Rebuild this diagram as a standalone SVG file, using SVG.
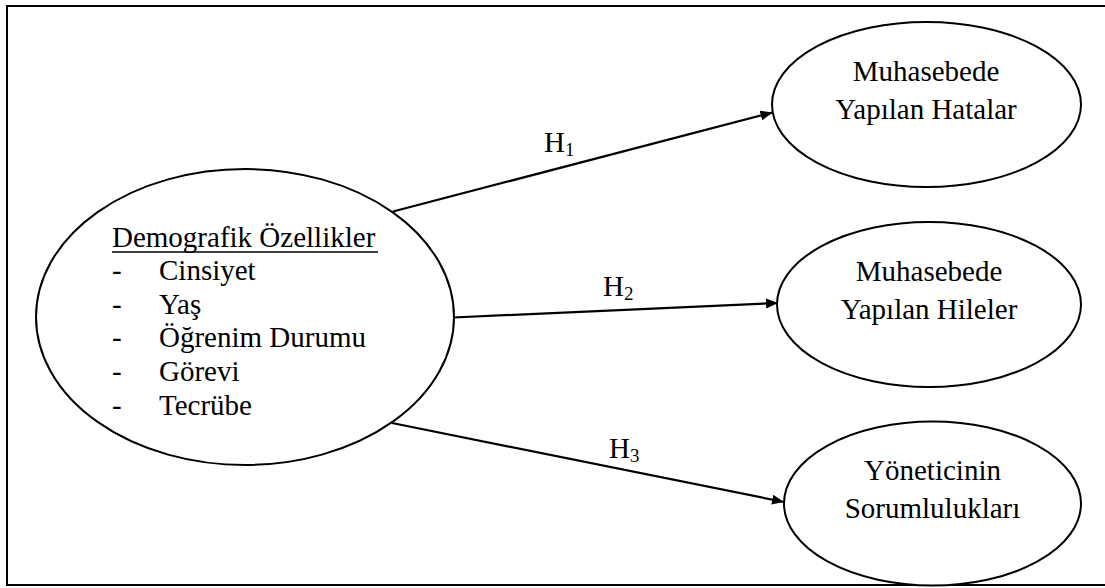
<svg xmlns="http://www.w3.org/2000/svg" width="1105" height="588" viewBox="0 0 1105 588">
  <defs>
    <marker id="arrow" viewBox="0 0 12 10" refX="12" refY="5" markerWidth="12" markerHeight="10" markerUnits="userSpaceOnUse" orient="auto">
      <path d="M0,0 L12,5 L0,10 Z" fill="#000"/>
    </marker>
    <style>
      .frame { fill: #fff; stroke: #000; stroke-width: 2; }
      .node { fill: #fff; stroke: #000; stroke-width: 2; }
      .edge { fill: none; stroke: #000; stroke-width: 2.2; marker-end: url(#arrow); }
      text { font-family: 'Liberation Serif', 'DejaVu Serif', serif; font-size: 29px; fill: #000; }
      .c { text-anchor: middle; }
      .sub { font-size: 19px; }
    </style>
  </defs>

  <rect width="1105" height="588" fill="#fff"/>
  <!-- outer frame, right edge runs past the canvas -->
  <rect class="frame" x="7" y="6" width="1110" height="579"/>

  <g font-family="'Liberation Serif', 'DejaVu Serif', serif" font-size="29">
    <!-- connectors -->
    <g id="connectors">
      <line class="edge" x1="393" y1="211.5" x2="772.5" y2="112.5"/>
      <line class="edge" x1="453" y1="317.5" x2="778" y2="303"/>
      <line class="edge" x1="392" y1="423" x2="784" y2="502"/>
      <text x="544" y="152">H<tspan class="sub" dy="4">1</tspan></text>
      <text x="603" y="296">H<tspan class="sub" dy="4">2</tspan></text>
      <text x="609" y="458">H<tspan class="sub" dy="4">3</tspan></text>
    </g>

    <!-- source node -->
    <g id="demografik">
      <ellipse class="node" cx="245" cy="317" rx="209" ry="148"/>
      <text x="112" y="247">Demografik Özellikler</text>
      <line x1="112" y1="252" x2="378" y2="252" stroke="#000" stroke-width="1.6"/>
      <text x="112" y="280">-</text><text x="159" y="280">Cinsiyet</text>
      <text x="112" y="314">-</text><text x="159" y="314">Yaş</text>
      <text x="112" y="347">-</text><text x="159" y="347">Öğrenim Durumu</text>
      <text x="112" y="381">-</text><text x="159" y="381">Görevi</text>
      <text x="112" y="415">-</text><text x="159" y="415">Tecrübe</text>
    </g>

    <!-- target nodes -->
    <g id="hatalar">
      <ellipse class="node" cx="926.5" cy="104.5" rx="154.5" ry="82.5"/>
      <text class="c" x="926" y="81">Muhasebede</text>
      <text class="c" x="926" y="119">Yapılan Hatalar</text>
    </g>

    <g id="hileler">
      <ellipse class="node" cx="929" cy="304.5" rx="152" ry="82.5"/>
      <text class="c" x="929" y="281">Muhasebede</text>
      <text class="c" x="929" y="319">Yapılan Hileler</text>
    </g>

    <g id="sorumluluklar">
      <ellipse class="node" cx="932.5" cy="503.5" rx="148.5" ry="82"/>
      <text class="c" x="932.5" y="480">Yöneticinin</text>
      <text class="c" x="932.5" y="518">Sorumlulukları</text>
    </g>
  </g>
</svg>
